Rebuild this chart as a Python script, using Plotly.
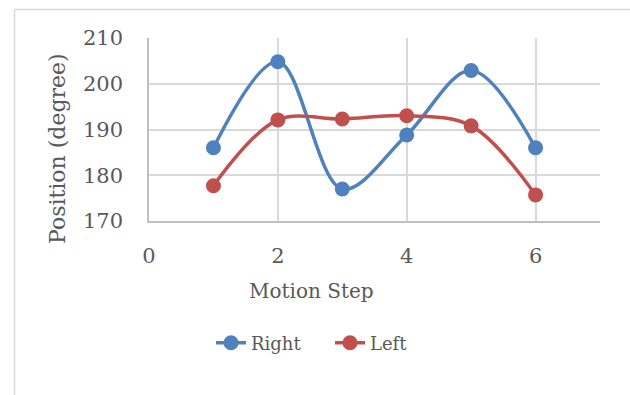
import plotly.graph_objects as go

steps = [1, 2, 3, 4, 5, 6]
right = [186, 204.8, 177, 188.8, 202.9, 186]
left = [177.7, 192.1, 192.3, 193.0, 190.8, 175.7]

x_ticks = [0, 2, 4, 6]
y_ticks = [170, 180, 190, 200, 210]

BLUE = "#4F81BD"
RED = "#C0504D"
TEXT = "#595959"
GRID = "#D9D9D9"
FONT = "DejaVu Serif"

W, H = 630, 395
ML, MR, MT, MB = 149, 30, 38, 174
PW, PH = W - ML - MR, H - MT - MB


def px_to_paper_x(px):
    return (px - ML) / PW


def px_to_paper_y(py):
    return (H - MB - py) / PH


fig = go.Figure()
for name, vals, col in [("Right", right, BLUE), ("Left", left, RED)]:
    fig.add_trace(go.Scatter(
        x=steps, y=vals, name=name, mode="lines+markers",
        line=dict(color=col, width=3.5, shape="spline", smoothing=1.0),
        marker=dict(color=col, size=15),
    ))

fig.update_layout(
    width=W, height=H,
    margin=dict(l=ML, r=MR, t=MT, b=MB),
    paper_bgcolor="white", plot_bgcolor="white",
    font=dict(family=FONT, size=20, color=TEXT),
    showlegend=True,
    legend=dict(
        orientation="h", x=px_to_paper_x(330), xanchor="center",
        y=px_to_paper_y(343), yanchor="middle",
        font=dict(family=FONT, size=18, color=TEXT),
        entrywidth=74, entrywidthmode="pixels",
        bgcolor="rgba(0,0,0,0)",
    ),
    xaxis=dict(
        range=[0, 7], tickvals=x_ticks, showgrid=True, gridcolor=GRID,
        gridwidth=1.5, showline=True, linecolor="#BFBFBF", linewidth=1.5,
        zeroline=False, ticks="outside", ticklen=15, tickcolor="rgba(0,0,0,0)",
        tickfont=dict(family=FONT, size=21, color=TEXT),
    ),
    yaxis=dict(
        range=[170, 210], tickvals=y_ticks, showgrid=True, gridcolor=GRID,
        gridwidth=1.5, showline=True, linecolor="#BFBFBF", linewidth=1.5,
        zeroline=False, ticks="outside", ticklen=20, tickcolor="rgba(0,0,0,0)",
        tickfont=dict(family=FONT, size=21, color=TEXT),
    ),
)

# axis titles
fig.add_annotation(
    text="Motion Step", xref="paper", yref="paper",
    x=px_to_paper_x(311), y=px_to_paper_y(291),
    xanchor="center", yanchor="middle", showarrow=False,
    font=dict(family=FONT, size=20, color=TEXT),
)
fig.add_annotation(
    text="Position (degree)", xref="paper", yref="paper",
    x=px_to_paper_x(57), y=px_to_paper_y(149),
    xanchor="center", yanchor="middle", showarrow=False, textangle=-90,
    font=dict(family=FONT, size=22, color=TEXT),
)

# chart frame (top and left edges)
fig.add_shape(
    type="line", xref="paper", yref="paper",
    x0=px_to_paper_x(14.5), x1=px_to_paper_x(700),
    y0=px_to_paper_y(9.5), y1=px_to_paper_y(9.5),
    line=dict(color=GRID, width=1.5), layer="below",
)
fig.add_shape(
    type="line", xref="paper", yref="paper",
    x0=px_to_paper_x(14.5), x1=px_to_paper_x(14.5),
    y0=px_to_paper_y(9.5), y1=px_to_paper_y(420),
    line=dict(color=GRID, width=1.5), layer="below",
)

fig.write_html("out.html")
